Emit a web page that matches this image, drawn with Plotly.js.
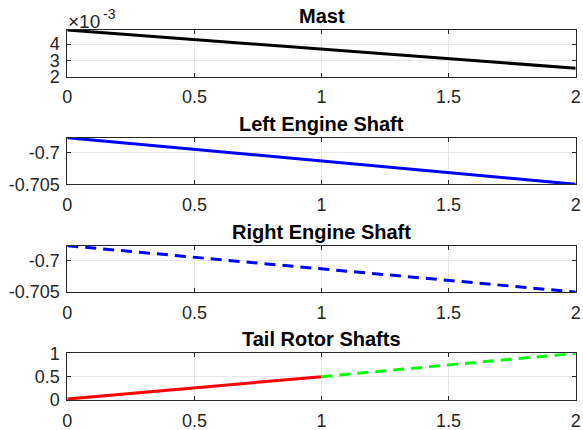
<!DOCTYPE html>
<html>
<head>
<meta charset="utf-8">
<script src="https://cdn.plot.ly/plotly-3.0.1.min.js"></script>
<style>html,body{margin:0;padding:0;background:#fff;}#chart{width:583px;height:430px;}</style>
</head>
<body>
<div id="chart"></div>
<script>
// ---- data ----
const titles = ["Mast", "Left Engine Shaft", "Right Engine Shaft", "Tail Rotor Shafts"];
const time = [0, 2];
const mast = [0.00486, 0.00252];
const leftEngine = [-0.69763, -0.70500];
const rightEngine = [-0.69763, -0.70500];
const tailX1 = [0, 1];
const tailY1 = [0.02, 0.5];
const tailX2 = [1, 2];
const tailY2 = [0.5, 1.0];

const xTickVals = [0, 0.5, 1, 1.5, 2];
const xTickText = ["0", "0.5", "1", "1.5", "2"];
const mastTickVals = [0.002, 0.003, 0.004];
const mastTickText = ["2", "3", "4"];
const engTickVals = [-0.705, -0.7];
const engTickText = ["-0.705", "-0.7"];
const tailTickVals = [0, 0.5, 1];
const tailTickText = ["0", "0.5", "1"];
const exponentBase = "×10";
const exponentPower = "-3";

// ---- layout geometry (pixels) ----
const W = 583, H = 430;
const xL = 67.3, xR = 575.7;
const tops = [30, 137.7, 245.7, 353.3];
const bots = [76.7, 184.3, 292, 400];

const FONT = "Liberation Sans, Arial, Helvetica, sans-serif";
const axisColor = "#262626";
const gridColor = "#e8e8e8";

const traces = [
  {x: time, y: mast, xaxis: "x", yaxis: "y", mode: "lines", line: {color: "#000000", width: 3}},
  {x: time, y: leftEngine, xaxis: "x2", yaxis: "y2", mode: "lines", line: {color: "#0000ff", width: 3}},
  {x: time, y: rightEngine, xaxis: "x3", yaxis: "y3", mode: "lines", line: {color: "#0000ff", width: 3, dash: "11px,7px"}},
  {x: tailX1, y: tailY1, xaxis: "x4", yaxis: "y4", mode: "lines", line: {color: "#ff0000", width: 3}},
  {x: tailX2, y: tailY2, xaxis: "x4", yaxis: "y4", mode: "lines", line: {color: "#00ff00", width: 3, dash: "11px,7px"}}
];

const yRanges = [[0.002, 0.00486], [-0.705, -0.69763], [-0.705, -0.69763], [0, 1]];
const yTV = [mastTickVals, engTickVals, engTickVals, tailTickVals];
const yTT = [mastTickText, engTickText, engTickText, tailTickText];

const layout = {
  width: W, height: H,
  margin: {l: 0, r: 0, t: 0, b: 0},
  paper_bgcolor: "#ffffff", plot_bgcolor: "#ffffff",
  showlegend: false,
  font: {family: FONT, size: 18, color: axisColor},
  annotations: []
};

for (let i = 0; i < 4; i++) {
  const s = i === 0 ? "" : String(i + 1);
  const common = {
    showline: true, linecolor: axisColor, linewidth: 1, mirror: "ticks",
    ticks: "inside", ticklen: 4, tickcolor: axisColor, tickwidth: 1,
    showgrid: true, gridcolor: gridColor, gridwidth: 1, zeroline: false,
    tickfont: {family: FONT, size: 18, color: axisColor}, fixedrange: true
  };
  layout["xaxis" + s] = Object.assign({}, common, {
    domain: [xL / W, xR / W], range: [0, 2], anchor: "y" + s,
    tickmode: "array", tickvals: xTickVals, ticktext: xTickText, ticklabelstandoff: 4
  });
  layout["yaxis" + s] = Object.assign({}, common, {
    domain: [1 - bots[i] / H, 1 - tops[i] / H], range: yRanges[i], anchor: "x" + s,
    tickmode: "array", tickvals: yTV[i], ticktext: yTT[i], ticklabelstandoff: 3
  });
  layout.annotations.push({
    text: "<b>" + titles[i] + "</b>", xref: "paper", yref: "paper",
    x: (xL + xR) / 2 / W, y: 1 - tops[i] / H, xanchor: "center", yanchor: "bottom",
    yshift: 1, showarrow: false, font: {family: FONT, size: 20, color: "#000000"}
  });
}
layout.annotations.push({
  text: exponentBase, xref: "paper", yref: "paper",
  x: 66 / W, y: 1 - 21 / H, xanchor: "left", yanchor: "middle",
  showarrow: false, font: {family: FONT, size: 19, color: axisColor}
});
layout.annotations.push({
  text: exponentPower, xref: "paper", yref: "paper",
  x: 100.5 / W, y: 1 - 14 / H, xanchor: "left", yanchor: "middle",
  showarrow: false, font: {family: FONT, size: 14, color: axisColor}
});

Plotly.newPlot("chart", traces, layout, {displayModeBar: false, staticPlot: true});
</script>
</body>
</html>
